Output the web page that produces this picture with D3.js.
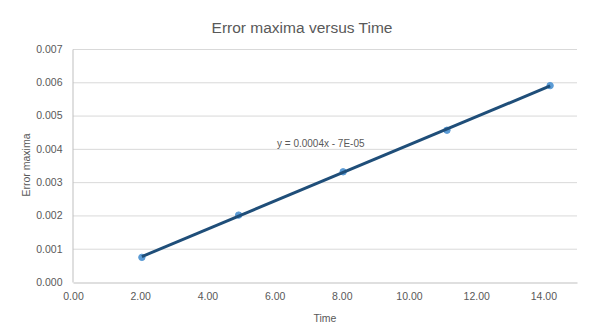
<!DOCTYPE html>
<html>
<head>
<meta charset="utf-8">
<script src="https://cdn.jsdelivr.net/npm/d3@7"></script>
<style>
  body { margin: 0; background: #fff; }
  text { font-family: "Liberation Sans", Arial, sans-serif; fill: #595959; }
</style>
</head>
<body>
<svg id="chart" width="605" height="335"></svg>
<script>
// data
const timeValues = [2.05, 4.93, 8.04, 11.13, 14.2];
const errorMaxima = [0.00074, 0.00201, 0.00331, 0.00456, 0.0059];
const xTicks = [0, 2, 4, 6, 8, 10, 12, 14];
const yTicks = [0, 0.001, 0.002, 0.003, 0.004, 0.005, 0.006, 0.007];
const trendLabel = "y = 0.0004x - 7E-05";

const svg = d3.select("#chart");
const margin = { left: 73, right: 28, top: 49, bottom: 53 };
const width = 605, height = 335;

const x = d3.scaleLinear().domain([0, 15]).range([margin.left, width - margin.right]);
const y = d3.scaleLinear().domain([0, 0.007]).range([height - margin.bottom, margin.top]);

// title
svg.append("text")
  .attr("x", 302).attr("y", 33)
  .attr("text-anchor", "middle")
  .style("font-size", "15.5px")
  .text("Error maxima versus Time");

// gridlines
svg.append("g")
  .selectAll("line")
  .data(yTicks.slice(1))
  .join("line")
  .attr("x1", x(0)).attr("x2", x(15))
  .attr("y1", d => y(d) + 0.5).attr("y2", d => y(d) + 0.5)
  .attr("stroke", "#d9d9d9");

// axes
const xAxis = svg.append("g")
  .attr("transform", `translate(0,${y(0) + 0.5})`)
  .call(d3.axisBottom(x).tickValues(xTicks).tickSize(0).tickPadding(10).tickFormat(d3.format(".2f")));
xAxis.select(".domain").attr("stroke", "#bfbfbf");

const yAxis = svg.append("g")
  .attr("transform", `translate(${x(0) - 0.5},0)`)
  .call(d3.axisLeft(y).tickValues(yTicks).tickSize(0).tickPadding(10).tickFormat(d3.format(".3f")));
yAxis.select(".domain").attr("stroke", "#bfbfbf");

svg.selectAll(".tick text")
  .style("font-size", "10.5px")
  .style("font-family", "Liberation Sans, Arial, sans-serif")
  .attr("fill", "#595959");

// axis titles
svg.append("text")
  .attr("x", 325).attr("y", 322)
  .attr("text-anchor", "middle")
  .style("font-size", "10.5px")
  .text("Time");

svg.append("text")
  .attr("transform", "translate(30,165) rotate(-90)")
  .attr("text-anchor", "middle")
  .style("font-size", "10.5px")
  .text("Error maxima");

const points = timeValues.map((t, i) => ({ t, e: errorMaxima[i] }));

// markers
svg.append("g")
  .selectAll("circle")
  .data(points)
  .join("circle")
  .attr("cx", d => x(d.t))
  .attr("cy", d => y(d.e))
  .attr("r", 3.2)
  .attr("fill", "#5b9bd5")
  .attr("stroke", "#5b9bd5");

// linear trendline (least squares)
const mx = d3.mean(points, d => d.t), my = d3.mean(points, d => d.e);
const slope = d3.sum(points, d => (d.t - mx) * (d.e - my)) / d3.sum(points, d => (d.t - mx) ** 2);
const icpt = my - slope * mx;
const ends = d3.extent(timeValues).map(t => [t, slope * t + icpt]);

svg.append("path")
  .datum(ends)
  .attr("fill", "none")
  .attr("stroke", "#1f4e79")
  .attr("stroke-width", 3)
  .attr("d", d3.line().x(d => x(d[0])).y(d => y(d[1])));

svg.append("text")
  .attr("x", 277).attr("y", 147)
  .style("font-size", "10px")
  .text(trendLabel);
</script>
</body>
</html>
